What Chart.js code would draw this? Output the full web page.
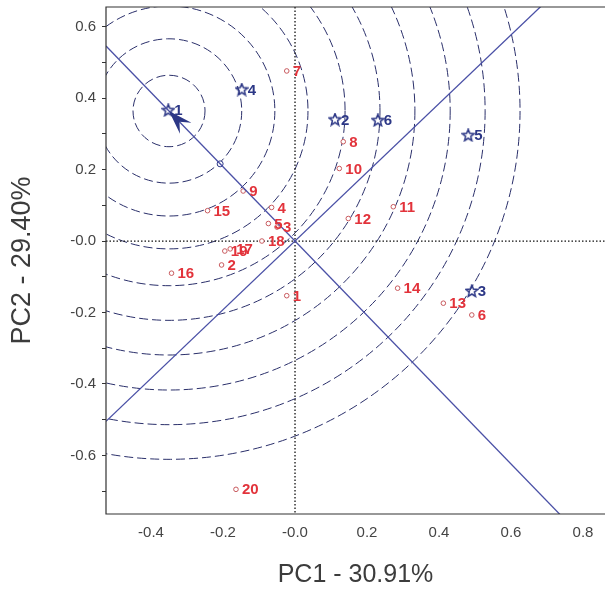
<!DOCTYPE html>
<html>
<head>
<meta charset="utf-8">
<script src="https://cdn.jsdelivr.net/npm/chart.js@4"></script>
<style>
  body { margin: 0; background: #fff; }
  canvas { display: block; }
</style>
</head>
<body>
<canvas id="biplot" width="605" height="598"></canvas>
<script>
// Genotypes (red circles)
const genoLabels = ['1','2','3','4','5','6','7','8','9','10','11','12','13','14','15','16','17','18','19','20'];
const genoPC1 = [-0.023, -0.204, -0.050, -0.065, -0.074, 0.491, -0.023, 0.134, -0.144, 0.123, 0.273, 0.148, 0.412, 0.285, -0.243, -0.343, -0.180, -0.092, -0.195, -0.164];
const genoPC2 = [-0.153, -0.067, 0.039, 0.094, 0.049, -0.207, 0.476, 0.278, 0.140, 0.203, 0.096, 0.063, -0.174, -0.132, 0.085, -0.090, -0.022, 0.000, -0.028, -0.695];

// Environments (blue stars)
const envLabels = ['1','2','3','4','5','6'];
const envPC1 = [-0.352, 0.111, 0.491, -0.148, 0.481, 0.230];
const envPC2 = [0.366, 0.340, -0.140, 0.424, 0.296, 0.338];

// ideal point (centre of the rings, arrow tip) and the small marker on the axis
const idealPoint = { x: -0.350, y: 0.364 };
const avgMarker = { x: -0.208, y: 0.216 };
const ringRadii = [0.100, 0.202, 0.294, 0.386, 0.489, 0.586, 0.683, 0.781, 0.878, 0.975];

const xTicks = [-0.4, -0.2, 0, 0.2, 0.4, 0.6, 0.8];
const yTicks = [-0.6, -0.4, -0.2, 0, 0.2, 0.4, 0.6];
const yMinor = [-0.7, -0.5, -0.3, -0.1, 0.1, 0.3, 0.5];
const xRange = [-0.525, 0.861];
const yRange = [-0.764, 0.655];

const RED = '#e2333b';
const NAVY = '#2c3786';
const LINE = '#4a50a6';

const fmt = v => (Math.abs(v) < 1e-9 ? '-0.0' : v.toFixed(1));

// axis through origin and ideal point, and its perpendicular
const slopeA = idealPoint.y / idealPoint.x;
const slopeB = -1 / slopeA;
const lineA = [{ x: xRange[0], y: slopeA * xRange[0] }, { x: xRange[1], y: slopeA * xRange[1] }];
const lineB = [{ x: xRange[0], y: slopeB * xRange[0] }, { x: xRange[1], y: slopeB * xRange[1] }];

// outlined five-point star used as point style
function makeStar(color) {
    const c = document.createElement('canvas');
    c.width = 14; c.height = 14;
    const g = c.getContext('2d');
    g.strokeStyle = color;
    g.lineWidth = 1.5;
    g.beginPath();
    for (let i = 0; i < 10; i++) {
        const r = i % 2 === 0 ? 6.2 : 2.7;
        const ang = -Math.PI / 2 + i * Math.PI / 5;
        const px = 7 + r * Math.cos(ang), py = 7.3 + r * Math.sin(ang);
        if (i === 0) g.moveTo(px, py); else g.lineTo(px, py);
    }
    g.closePath();
    g.stroke();
    return c;
}

const backdrop = {
    id: 'backdrop',
    beforeDatasetsDraw(chart) {
        const { ctx, chartArea: a, scales: { x, y } } = chart;
        ctx.save();
        ctx.beginPath();
        ctx.rect(a.left, a.top, a.right - a.left, a.bottom - a.top);
        ctx.clip();
        // rings
        const cx = x.getPixelForValue(idealPoint.x);
        const cy = y.getPixelForValue(idealPoint.y);
        const kx = Math.abs(x.getPixelForValue(1) - x.getPixelForValue(0));
        const ky = Math.abs(y.getPixelForValue(1) - y.getPixelForValue(0));
        ctx.strokeStyle = '#2a2f6a';
        ctx.lineWidth = 1;
        ctx.setLineDash([9, 4]);
        ringRadii.forEach(r => {
            ctx.beginPath();
            ctx.ellipse(cx, cy, r * kx, r * ky, 0, 0, Math.PI * 2);
            ctx.stroke();
        });
        // dotted zero lines
        ctx.strokeStyle = '#111';
        ctx.lineWidth = 1.3;
        ctx.setLineDash([1.5, 2]);
        const x0 = x.getPixelForValue(0), y0 = y.getPixelForValue(0);
        ctx.beginPath();
        ctx.moveTo(x0, a.top); ctx.lineTo(x0, a.bottom);
        ctx.moveTo(a.left, y0); ctx.lineTo(a.right, y0);
        ctx.stroke();
        ctx.restore();
    },
    afterDatasetsDraw(chart) {
        const { ctx, chartArea: a, scales: { x, y } } = chart;
        ctx.save();
        // arrow at ideal point, pointing away from origin
        const tx = x.getPixelForValue(idealPoint.x), ty = y.getPixelForValue(idealPoint.y);
        const ox = x.getPixelForValue(0), oy = y.getPixelForValue(0);
        const len = Math.hypot(ox - tx, oy - ty);
        const dx = (ox - tx) / len, dy = (oy - ty) / len;
        const nx = -dy, ny = dx;
        ctx.fillStyle = NAVY;
        ctx.beginPath();
        ctx.moveTo(tx, ty);
        ctx.lineTo(tx + dx * 24 + nx * 8, ty + dy * 24 + ny * 8);
        ctx.lineTo(tx + dx * 15, ty + dy * 15);
        ctx.lineTo(tx + dx * 24 - nx * 8, ty + dy * 24 - ny * 8);
        ctx.closePath();
        ctx.fill();

        // point labels
        ctx.textBaseline = 'middle';
        ctx.font = 'bold 15px "Liberation Sans", Arial, sans-serif';
        chart.data.datasets.forEach(ds => {
            if (!ds.labels) return;
            ctx.fillStyle = ds.labelColor;
            ds.data.forEach((p, i) => {
                ctx.fillText(ds.labels[i], x.getPixelForValue(p.x) + 6, y.getPixelForValue(p.y) + 1);
            });
        });

        // frame (left, top, bottom; right side runs off the picture)
        ctx.strokeStyle = '#333';
        ctx.lineWidth = 1.2;
        ctx.setLineDash([]);
        ctx.beginPath();
        ctx.moveTo(a.right, a.top);
        ctx.lineTo(a.left, a.top);
        ctx.lineTo(a.left, a.bottom);
        ctx.lineTo(a.right, a.bottom);
        ctx.stroke();
        ctx.restore();
    }
};

new Chart(document.getElementById('biplot'), {
    type: 'scatter',
    data: {
        datasets: [
            {
                type: 'line',
                data: lineA,
                borderColor: LINE,
                borderWidth: 1.3,
                pointRadius: 0,
                fill: false
            },
            {
                type: 'line',
                data: lineB,
                borderColor: LINE,
                borderWidth: 1.3,
                pointRadius: 0,
                fill: false
            },
            {
                data: [avgMarker],
                pointStyle: 'circle',
                pointRadius: 3,
                borderColor: NAVY,
                borderWidth: 1,
                backgroundColor: '#fff'
            },
            {
                data: genoPC1.map((v, i) => ({ x: v, y: genoPC2[i] })),
                labels: genoLabels,
                labelColor: RED,
                pointStyle: 'circle',
                pointRadius: 2.3,
                borderColor: '#c85a5e',
                borderWidth: 1,
                backgroundColor: '#fff'
            },
            {
                data: envPC1.map((v, i) => ({ x: v, y: envPC2[i] })),
                labels: envLabels,
                labelColor: NAVY,
                pointStyle: makeStar(NAVY),
                pointRadius: 6
            }
        ]
    },
    options: {
        responsive: false,
        animation: false,
        devicePixelRatio: 1,
        layout: { autoPadding: false, padding: { top: 7, right: 0, left: 0, bottom: 0 } },
        plugins: {
            legend: { display: false },
            tooltip: { enabled: false }
        },
        scales: {
            x: {
                type: 'linear',
                min: xRange[0],
                max: xRange[1],
                afterBuildTicks: scale => { scale.ticks = xTicks.map(v => ({ value: v })); },
                afterFit: scale => {
                    scale.height = 84;
                    scale.paddingLeft = 0;
                    scale.paddingRight = 0;
                },
                grid: { display: false, drawTicks: false },
                border: { display: false },
                ticks: {
                    callback: v => fmt(v),
                    color: '#444',
                    padding: 10,
                    maxRotation: 0,
                    autoSkip: false,
                    font: { family: '"Liberation Sans", Arial, sans-serif', size: 15 }
                },
                title: {
                    display: true,
                    text: 'PC1 - 30.91%',
                    color: '#3c3c3c',
                    padding: { top: 0, bottom: 8 },
                    font: { family: '"Liberation Sans", Arial, sans-serif', size: 25 }
                }
            },
            y: {
                type: 'linear',
                min: yRange[0],
                max: yRange[1],
                afterBuildTicks: scale => {
                    scale.ticks = yTicks.concat(yMinor).sort((a, b) => a - b).map(v => ({ value: v }));
                },
                afterFit: scale => {
                    scale.width = 106;
                    scale.paddingTop = 0;
                    scale.paddingBottom = 0;
                },
                grid: { display: true, drawOnChartArea: false, drawTicks: true, tickLength: 4, color: '#333' },
                border: { display: false },
                ticks: {
                    callback: v => (yTicks.some(t => Math.abs(t - v) < 1e-9) ? fmt(v) : ''),
                    color: '#444',
                    padding: 6,
                    autoSkip: false,
                    font: { family: '"Liberation Sans", Arial, sans-serif', size: 15 }
                },
                title: {
                    display: true,
                    text: 'PC2 - 29.40%',
                    color: '#3c3c3c',
                    padding: { top: 6, bottom: 0 },
                    font: { family: '"Liberation Sans", Arial, sans-serif', size: 27 }
                }
            }
        }
    },
    plugins: [backdrop]
});
</script>
</body>
</html>
